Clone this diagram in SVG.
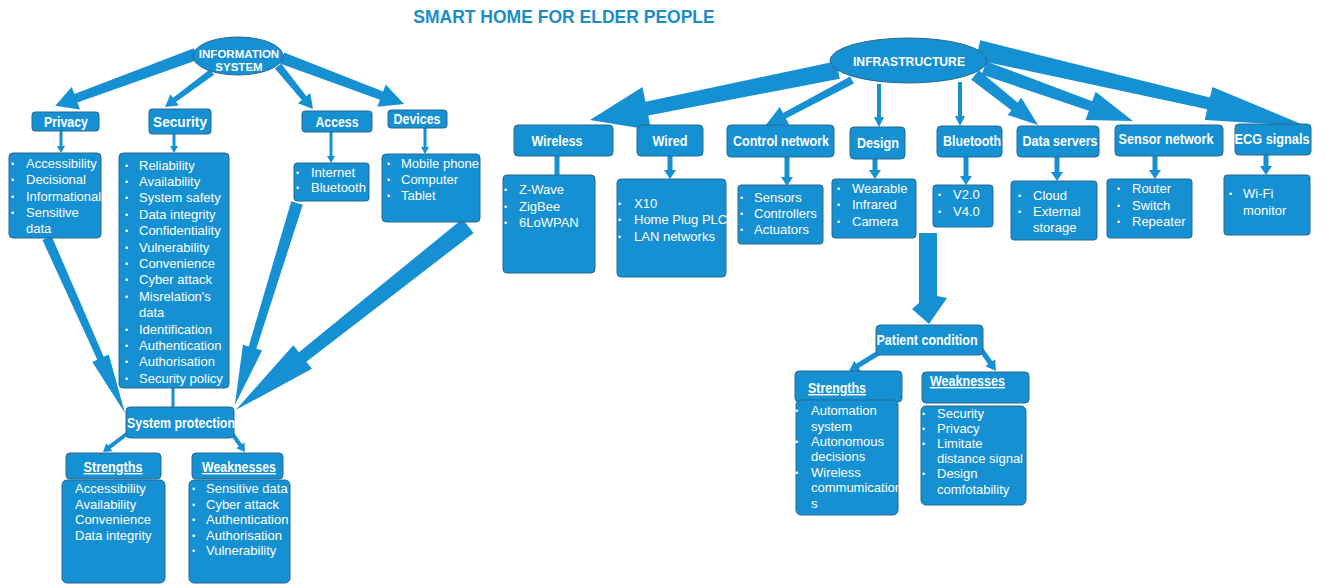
<svg xmlns="http://www.w3.org/2000/svg" width="1326" height="586" viewBox="0 0 1326 586">
<style>
.bg{fill:#ffffff}
.box{fill:#1590d2;stroke:#2a6890;stroke-width:1}
.con polygon,.con rect{fill:#1590d2;stroke:none}
.lbl{font-family:"Liberation Sans",Arial,sans-serif;font-weight:bold;fill:#ffffff;font-size:14px}
.ul{text-decoration:underline}
.it{font-family:"Liberation Sans",Arial,sans-serif;font-size:13px;fill:#ffffff}
.bu{font-family:"Liberation Sans",Arial,sans-serif;font-size:9px;fill:#ffffff}
.title{font-family:"Liberation Sans",Arial,sans-serif;font-weight:bold;font-size:17.5px;fill:#1b8ccb}
</style>
<rect class="bg" x="0" y="0" width="1326" height="586"/>
<text class="title" x="564" y="23" text-anchor="middle">SMART HOME FOR ELDER PEOPLE</text>

<g id="connectors" class="con">
  <!-- left side -->
  <polygon transform="translate(196,54) rotate(159.8)" points="0,-6 128,-4.5 128,-12 150,0 128,12 128,4.5 0,6"/>
  <polygon transform="translate(212,72) rotate(143.3)" points="0,-3.5 46.6,-2.5 46.6,-7 58.6,0 46.6,7 46.6,2.5 0,3.5"/>
  <polygon transform="translate(278,66) rotate(50.9)" points="0,-4 41.4,-3 41.4,-8 55.4,0 41.4,8 41.4,3 0,4"/>
  <polygon transform="translate(282,58) rotate(20.7)" points="0,-6 106.4,-4.5 106.4,-12 130.4,0 106.4,12 106.4,4.5 0,6"/>
  <polygon points="59.5,131 62.5,131 62.5,146 65,146 61,153 57,146 59.5,146"/>
  <polygon points="172.5,134 175.5,134 175.5,146 178,146 174,153 170,146 172.5,146"/>
  <polygon points="329.5,132 332.5,132 332.5,156 335,156 331,163 327,156 329.5,156"/>
  <polygon points="423.5,128 426.5,128 426.5,147 429,147 425,154 421,147 423.5,147"/>
  <polygon transform="translate(47,238) rotate(66)" points="0,-5 131.6,-3.5 131.6,-9 191.6,0 131.6,9 131.6,3.5 0,5"/>
  <rect x="171.5" y="388" width="3" height="19"/>
  <polygon transform="translate(297,203) rotate(107.1)" points="0,-6 151.3,-4 151.3,-10 211.3,0 151.3,10 151.3,4 0,6"/>
  <polygon transform="translate(468,226) rotate(141.6)" points="0,-9 211,-6 211,-15 296,0 211,15 211,6 0,9"/>
  <polygon transform="translate(128,433) rotate(142.8)" points="0,-2 23.4,-2 23.4,-5 31.4,0 23.4,5 23.4,2 0,2"/>
  <polygon transform="translate(231,432) rotate(55)" points="0,-2 16.4,-2 16.4,-5 24.4,0 16.4,5 16.4,2 0,2"/>
  <!-- right side -->
  <polygon transform="translate(838,70) rotate(168.6)" points="0,-9 195,-7 195,-22 253,0 195,22 195,7 0,9"/>
  <polygon transform="translate(852,80) rotate(152.1)" points="0,-4 76.4,-3 76.4,-10 98.4,0 76.4,10 76.4,3 0,4"/>
  <polygon points="877,84 881,84 881,117 884,117 879,127 874,117 877,117"/>
  <polygon points="958,82 962,82 962,116 965,116 960,126 955,116 958,116"/>
  <polygon transform="translate(975,75) rotate(38.4)" points="0,-6 50.4,-5 50.4,-11 80.4,0 50.4,11 50.4,5 0,6"/>
  <polygon transform="translate(984,68) rotate(19.6)" points="0,-7 113.1,-5 113.1,-15 158.1,0 113.1,15 113.1,5 0,7"/>
  <polygon transform="translate(978,50) rotate(13.05)" points="0,-10 236.7,-6 236.7,-17 336.7,0 236.7,17 236.7,6 0,10"/>
  <rect x="554.5" y="156" width="5" height="19"/>
  <polygon points="667.5,156 672.5,156 672.5,170 676,170 670,179 664,170 667.5,170"/>
  <polygon points="784.5,157 789.5,157 789.5,177 793,177 787,186 781,177 784.5,177"/>
  <polygon points="872.5,159 877.5,159 877.5,170 881,170 875,179 869,170 872.5,170"/>
  <polygon points="963.5,157 968.5,157 968.5,176 972,176 966,185 960,176 963.5,176"/>
  <polygon points="1054.5,157 1059.5,157 1059.5,172 1063,172 1057,181 1051,172 1054.5,172"/>
  <polygon points="1152.5,156 1157.5,156 1157.5,170 1161,170 1155,179 1149,170 1152.5,170"/>
  <polygon points="1263.5,155 1268.5,155 1268.5,166 1272,166 1266,175 1260,166 1263.5,166"/>
  <polygon points="919,233 937,233 937,296 947,298 929,324 912,309 919,303"/>
  <polygon transform="translate(880,352) rotate(148.5)" points="0,-2.5 26.4,-2.5 26.4,-6 36.4,0 26.4,6 26.4,2.5 0,2.5"/>
  <polygon transform="translate(980,348) rotate(55.2)" points="0,-2.5 18,-2.5 18,-6 28,0 18,6 18,2.5 0,2.5"/>
</g>

<!-- LEFT: information system -->
<g id="information-system">
  <ellipse class="box" cx="238" cy="56" rx="45" ry="19"/>
  <text class="lbl" x="239" y="57.5" text-anchor="middle" font-size="11.5" style="font-size:11.5px">INFORMATION</text>
  <text class="lbl" x="239" y="71" text-anchor="middle" style="font-size:11.5px">SYSTEM</text>
</g>
<g id="privacy">
  <rect class="box" x="32" y="112" width="67" height="19" rx="3"/>
  <text class="lbl" x="66" y="127" text-anchor="middle" textLength="44" lengthAdjust="spacingAndGlyphs">Privacy</text>
</g>
<g id="security">
  <rect class="box" x="149" y="109" width="62" height="25" rx="3"/>
  <text class="lbl" x="180" y="127" text-anchor="middle" style="font-size:15px" textLength="54" lengthAdjust="spacingAndGlyphs">Security</text>
</g>
<g id="access">
  <rect class="box" x="302" y="111" width="70" height="21" rx="3"/>
  <text class="lbl" x="337" y="127" text-anchor="middle" textLength="43" lengthAdjust="spacingAndGlyphs">Access</text>
</g>
<g id="devices">
  <rect class="box" x="388" y="110" width="59" height="18" rx="3"/>
  <text class="lbl" x="417" y="124" text-anchor="middle" textLength="47" lengthAdjust="spacingAndGlyphs">Devices</text>
</g>
<g id="privacy-list">
  <rect class="box" x="9" y="153" width="92" height="85" rx="4"/>
  <text class="bu" x="11" y="167">•</text><text class="it" x="26" y="168">Accessibility</text>
  <text class="bu" x="11" y="183">•</text><text class="it" x="26" y="184">Decisional</text>
  <text class="bu" x="11" y="199.5">•</text><text class="it" x="26" y="200.5">Informational</text>
  <text class="bu" x="11" y="216">•</text><text class="it" x="26" y="217">Sensitive</text>
  <text class="it" x="26" y="233">data</text>
</g>
<g id="security-list">
  <rect class="box" x="119" y="153" width="110" height="235" rx="4"/>
  <g class="bu">
    <text x="125" y="168.5">•</text><text x="125" y="184.9">•</text><text x="125" y="201.3">•</text><text x="125" y="217.7">•</text>
    <text x="125" y="234.1">•</text><text x="125" y="250.5">•</text><text x="125" y="266.9">•</text><text x="125" y="283.3">•</text>
    <text x="125" y="299.7">•</text><text x="125" y="332.5">•</text><text x="125" y="348.9">•</text><text x="125" y="365.3">•</text>
    <text x="125" y="381.7">•</text>
  </g>
  <text class="it" x="139" y="169.5">Reliability</text>
  <text class="it" x="139" y="185.9">Availability</text>
  <text class="it" x="139" y="202.3">System safety</text>
  <text class="it" x="139" y="218.7">Data integrity</text>
  <text class="it" x="139" y="235.1">Confidentiality</text>
  <text class="it" x="139" y="251.5">Vulnerability</text>
  <text class="it" x="139" y="267.9">Convenience</text>
  <text class="it" x="139" y="284.3">Cyber attack</text>
  <text class="it" x="139" y="300.7">Misrelation's</text>
  <text class="it" x="139" y="317.1">data</text>
  <text class="it" x="139" y="333.5">Identification</text>
  <text class="it" x="139" y="349.9">Authentication</text>
  <text class="it" x="139" y="366.3">Authorisation</text>
  <text class="it" x="139" y="382.7">Security policy</text>
</g>
<g id="access-list">
  <rect class="box" x="294" y="163" width="75" height="38" rx="3"/>
  <text class="bu" x="296" y="175.5">•</text><text class="it" x="311" y="176.5">Internet</text>
  <text class="bu" x="296" y="190.5">•</text><text class="it" x="311" y="191.5">Bluetooth</text>
</g>
<g id="devices-list">
  <rect class="box" x="382" y="154" width="98" height="68" rx="4"/>
  <text class="bu" x="387" y="166.5">•</text><text class="it" x="401" y="167.5">Mobile phone</text>
  <text class="bu" x="387" y="182.5">•</text><text class="it" x="401" y="183.5">Computer</text>
  <text class="bu" x="387" y="198.5">•</text><text class="it" x="401" y="199.5">Tablet</text>
</g>
<g id="system-protection">
  <rect class="box" x="126" y="407" width="108" height="31" rx="4"/>
  <text class="lbl" x="127" y="428" textLength="108" lengthAdjust="spacingAndGlyphs">System protection</text>
</g>
<g id="strengths-left">
  <rect class="box" x="66" y="453" width="95" height="26" rx="4"/>
  <text class="lbl ul" x="113" y="472" text-anchor="middle" textLength="59" lengthAdjust="spacingAndGlyphs">Strengths</text>
</g>
<g id="strengths-left-list">
  <rect class="box" x="62" y="480" width="103" height="103" rx="5"/>
  <text class="it" x="75" y="493">Accessibility</text>
  <text class="it" x="75" y="508.5">Availability</text>
  <text class="it" x="75" y="523.5">Convenience</text>
  <text class="it" x="75" y="539.5">Data integrity</text>
</g>
<g id="weaknesses-left">
  <rect class="box" x="192" y="453" width="91" height="26" rx="4"/>
  <text class="lbl ul" x="239" y="472" text-anchor="middle" textLength="74" lengthAdjust="spacingAndGlyphs">Weaknesses</text>
</g>
<g id="weaknesses-left-list">
  <rect class="box" x="189" y="480" width="101" height="103" rx="5"/>
  <text class="bu" x="192" y="492">•</text><text class="it" x="206" y="493">Sensitive data</text>
  <text class="bu" x="192" y="507.5">•</text><text class="it" x="206" y="508.5">Cyber attack</text>
  <text class="bu" x="192" y="522.5">•</text><text class="it" x="206" y="523.5">Authentication</text>
  <text class="bu" x="192" y="538.5">•</text><text class="it" x="206" y="539.5">Authorisation</text>
  <text class="bu" x="192" y="553.5">•</text><text class="it" x="206" y="554.5">Vulnerability</text>
</g>

<!-- RIGHT: infrastructure -->
<g id="infrastructure">
  <ellipse class="box" cx="908.5" cy="60.5" rx="78.5" ry="22.5"/>
  <text class="lbl" x="909" y="66" text-anchor="middle" style="font-size:12.5px" textLength="112" lengthAdjust="spacingAndGlyphs">INFRASTRUCTURE</text>
</g>
<g id="wireless">
  <rect class="box" x="514" y="125" width="99" height="31" rx="4"/>
  <text class="lbl" x="557" y="146" text-anchor="middle" textLength="51" lengthAdjust="spacingAndGlyphs">Wireless</text>
</g>
<g id="wired">
  <rect class="box" x="637" y="125" width="66" height="31" rx="4"/>
  <text class="lbl" x="670" y="146" text-anchor="middle" textLength="35" lengthAdjust="spacingAndGlyphs">Wired</text>
</g>
<g id="control-network">
  <rect class="box" x="727" y="125" width="107" height="32" rx="4"/>
  <text class="lbl" x="781" y="146" text-anchor="middle" textLength="96" lengthAdjust="spacingAndGlyphs">Control network</text>
</g>
<g id="design">
  <rect class="box" x="850" y="127" width="55" height="32" rx="4"/>
  <text class="lbl" x="878" y="148" text-anchor="middle" textLength="42" lengthAdjust="spacingAndGlyphs">Design</text>
</g>
<g id="bluetooth">
  <rect class="box" x="937" y="126" width="65" height="31" rx="4"/>
  <text class="lbl" x="972" y="146" text-anchor="middle" textLength="58" lengthAdjust="spacingAndGlyphs">Bluetooth</text>
</g>
<g id="data-servers">
  <rect class="box" x="1017" y="126" width="82" height="31" rx="4"/>
  <text class="lbl" x="1060" y="146" text-anchor="middle" textLength="75" lengthAdjust="spacingAndGlyphs">Data servers</text>
</g>
<g id="sensor-network">
  <rect class="box" x="1115" y="125" width="108" height="31" rx="4"/>
  <text class="lbl" x="1166" y="144" text-anchor="middle" textLength="95" lengthAdjust="spacingAndGlyphs">Sensor network</text>
</g>
<g id="ecg-signals">
  <rect class="box" x="1235" y="124" width="76" height="31" rx="4"/>
  <text class="lbl" x="1272" y="144" text-anchor="middle" textLength="75" lengthAdjust="spacingAndGlyphs">ECG signals</text>
</g>
<g id="wireless-list">
  <rect class="box" x="503" y="175" width="92" height="98" rx="4"/>
  <text class="bu" x="504" y="192.5">•</text><text class="it" x="519" y="193.5">Z-Wave</text>
  <text class="bu" x="504" y="209.5">•</text><text class="it" x="519" y="210.5">ZigBee</text>
  <text class="bu" x="504" y="225.5">•</text><text class="it" x="519" y="226.5">6LoWPAN</text>
</g>
<g id="wired-list">
  <rect class="box" x="617" y="179" width="109" height="98" rx="4"/>
  <text class="bu" x="618" y="206.5">•</text><text class="it" x="634" y="207.5">X10</text>
  <text class="bu" x="618" y="222.5">•</text><text class="it" x="634" y="223.5">Home Plug PLC</text>
  <text class="bu" x="618" y="239.5">•</text><text class="it" x="634" y="240.5">LAN networks</text>
</g>
<g id="control-list">
  <rect class="box" x="738" y="185" width="85" height="59" rx="3"/>
  <text class="bu" x="740" y="200.5">•</text><text class="it" x="754" y="201.5">Sensors</text>
  <text class="bu" x="740" y="216.5">•</text><text class="it" x="754" y="217.5">Controllers</text>
  <text class="bu" x="740" y="232.5">•</text><text class="it" x="754" y="233.5">Actuators</text>
</g>
<g id="design-list">
  <rect class="box" x="832" y="179" width="84" height="59" rx="3"/>
  <text class="bu" x="837" y="191.5">•</text><text class="it" x="852" y="192.5">Wearable</text>
  <text class="bu" x="837" y="207.5">•</text><text class="it" x="852" y="208.5">Infrared</text>
  <text class="bu" x="837" y="224.5">•</text><text class="it" x="852" y="225.5">Camera</text>
</g>
<g id="bluetooth-list">
  <rect class="box" x="933" y="185" width="60" height="42" rx="3"/>
  <text class="bu" x="938" y="197.5">•</text><text class="it" x="953" y="198.5">V2.0</text>
  <text class="bu" x="938" y="214.5">•</text><text class="it" x="953" y="215.5">V4.0</text>
</g>
<g id="data-servers-list">
  <rect class="box" x="1011" y="181" width="86" height="59" rx="3"/>
  <text class="bu" x="1018" y="198.5">•</text><text class="it" x="1033" y="199.5">Cloud</text>
  <text class="bu" x="1018" y="214.5">•</text><text class="it" x="1033" y="215.5">External</text>
  <text class="it" x="1033" y="231.5">storage</text>
</g>
<g id="sensor-list">
  <rect class="box" x="1107" y="179" width="85" height="59" rx="3"/>
  <text class="bu" x="1117" y="191.5">•</text><text class="it" x="1132" y="192.5">Router</text>
  <text class="bu" x="1117" y="208.5">•</text><text class="it" x="1132" y="209.5">Switch</text>
  <text class="bu" x="1117" y="224.5">•</text><text class="it" x="1132" y="225.5">Repeater</text>
</g>
<g id="ecg-list">
  <rect class="box" x="1224" y="175" width="86" height="60" rx="3"/>
  <text class="bu" x="1229" y="196.5">•</text><text class="it" x="1243" y="197.5">Wi-Fi</text>
  <text class="it" x="1243" y="214.5">monitor</text>
</g>
<g id="patient-condition">
  <rect class="box" x="876" y="325" width="107" height="30" rx="4"/>
  <text class="lbl" x="927" y="345" text-anchor="middle" textLength="101" lengthAdjust="spacingAndGlyphs">Patient condition</text>
</g>
<g id="strengths-right">
  <rect class="box" x="795" y="371" width="107" height="31" rx="4"/>
  <text class="lbl ul" x="808" y="393" textLength="58" lengthAdjust="spacingAndGlyphs">Strengths</text>
</g>
<g id="strengths-right-list">
  <rect class="box" x="796" y="400" width="102" height="115" rx="5"/>
  <text class="bu" x="795" y="413.5">•</text><text class="it" x="811" y="414.5">Automation</text>
  <text class="it" x="811" y="430.5">system</text>
  <text class="bu" x="795" y="444.5">•</text><text class="it" x="811" y="445.5">Autonomous</text>
  <text class="it" x="811" y="460.5">decisions</text>
  <text class="bu" x="795" y="475.5">•</text><text class="it" x="811" y="476.5">Wireless</text>
  <text class="it" x="811" y="491.5">commumication</text>
  <text class="it" x="811" y="507.5">s</text>
</g>
<g id="weaknesses-right">
  <rect class="box" x="922" y="372" width="107" height="31" rx="4"/>
  <text class="lbl ul" x="930" y="386" textLength="75" lengthAdjust="spacingAndGlyphs">Weaknesses</text>
</g>
<g id="weaknesses-right-list">
  <rect class="box" x="921" y="406" width="105" height="99" rx="5"/>
  <text class="bu" x="922" y="416.5">•</text><text class="it" x="937" y="417.5">Security</text>
  <text class="bu" x="922" y="431.5">•</text><text class="it" x="937" y="432.5">Privacy</text>
  <text class="bu" x="922" y="446.5">•</text><text class="it" x="937" y="447.5">Limitate</text>
  <text class="it" x="937" y="462.5">distance signal</text>
  <text class="bu" x="922" y="476.5">•</text><text class="it" x="937" y="477.5">Design</text>
  <text class="it" x="937" y="493.5">comfotability</text>
</g>
</svg>
